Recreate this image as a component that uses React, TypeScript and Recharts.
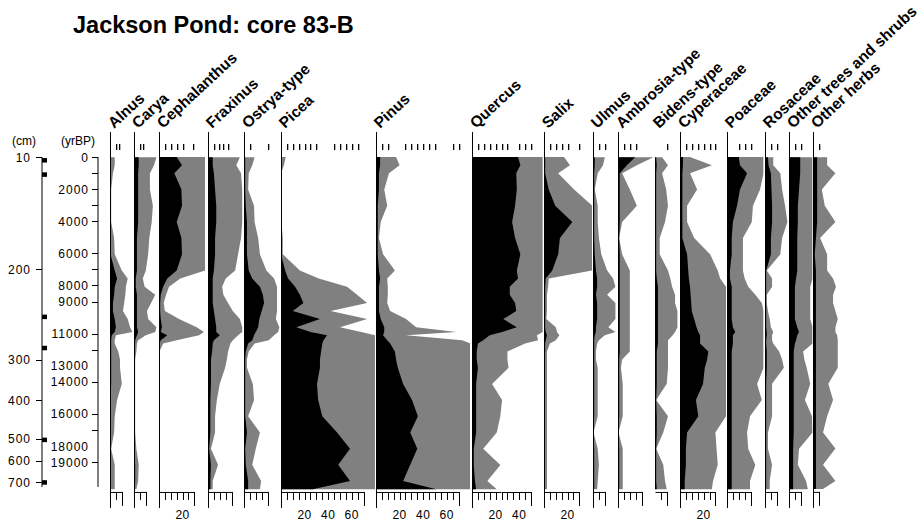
import React from "react";
import { ComposedChart, Area, Line, XAxis, YAxis } from "recharts";

// horizontal scale shared by every taxon column (pixels per percent)
const PX_PER_PCT = 1.18;
// vertical axis in calibrated years BP; the negative part is the header strip above the core top
const AGE_MIN = -1550;
const AGE_MAX = 20550;
const FONT = "'Liberation Sans', Arial, sans-serif";

// sample ages (yr BP)
const ages = [0, 500, 1000, 2000, 3000, 4000, 5000, 6000, 7000, 7500, 8000, 8500, 9000, 9500, 10000, 10500, 10800, 11000, 11300, 11500, 12000, 12500, 13000, 14000, 15000, 16000, 17000, 18000, 19000, 20000, 20500];

// pollen percentages (black) and the x5 exaggeration curves (grey)
const alnusPct = [0.4, 0.4, 0, 0, 0, 0, 0, 0.4, 4, 6, 4, 3.5, 2.5, 2.5, 4, 5, 4, 1.5, 1, 1, 1, 1, 1, 1, 0.4, 0.4, 0.4, 0, 0.4, 0.4, 0.4];
const alnusExag = [4, 4, 2.5, 1, 1, 1, 3.5, 4, 10, 15, 13.5, 13, 12, 11, 15, 17, 19, 5, 4, 4, 7, 8.5, 8.5, 10, 6, 4, 3.5, 1, 4, 4, 4];
const caryaPct = [4, 4, 3.5, 3.5, 3.5, 3.5, 2.5, 2.5, 2.5, 1.5, 1.5, 2.5, 2.5, 2.5, 2.5, 2.5, 3.5, 2.5, 1, 1, 0.4, 0.4, 0.4, 0.4, 0.4, 0.4, 0.4, 0.4, 1, 1, 0.4];
const caryaExag = [19, 17, 13.5, 13.5, 16, 15, 13, 12, 10, 7.5, 9, 18, 14.5, 11, 12, 19, 18, 10, 3.5, 2.5, 2, 1, 1, 1, 1, 1, 1, 2, 4, 3.5, 2];
const cephalanthusPct = [15, 19.5, 13, 19, 19.5, 15, 19, 19.5, 15, 7, 3.5, 1.5, 1, 1, 1.5, 2.5, 1.5, 7, 1.5, 0.4, 0, 0, 0, 0, 0, 0, 0, 0, 0, 0, 0];
const cephalanthusExag = [39, 39, 39, 39, 39, 39, 39, 39, 39, 18, 8.5, 6, 4, 5, 17, 32, 38, 34, 15, 3.5, 0.4, 0.4, 0.4, 0.4, 0.4, 0.4, 0.4, 0.4, 0.4, 0.4, 0.4];
const fraxinusPct = [4, 4, 5, 6, 7, 7, 6, 6, 5, 4, 4, 4, 4, 5, 6, 7, 7, 10, 5, 4, 3.5, 2.5, 2.5, 2.5, 2, 2, 2, 1, 2.5, 2, 2];
const fraxinusExag = [27, 24, 28, 29, 29, 29, 28, 25.5, 23, 15, 12, 13, 17, 21, 27, 29, 29, 25.5, 21, 19, 17, 16, 14.5, 10, 7.5, 6, 6, 2.5, 8.5, 4, 4];
const ostryaPct = [1, 1, 1, 1, 1.5, 2.5, 2.5, 2.5, 4, 7, 13.5, 16, 17, 15, 13, 12, 10, 8.5, 7, 3.5, 1.5, 1, 1, 1, 1, 1, 2.5, 1, 1.5, 3.5, 3.5];
const ostryaExag = [9, 7, 4, 3.5, 8.5, 9, 12, 13.5, 19, 25.5, 28, 28, 28, 28, 27, 30, 29, 25.5, 21, 9, 4, 2.5, 2.5, 7.5, 8.5, 3.5, 13.5, 10, 7, 14.5, 13.5];
const piceaPct = [0, 0, 0, 0, 0, 0, 0, 0, 3.5, 6, 12, 16, 19, 10, 33, 13, 25, 39, 36, 35, 34, 33, 33, 30.5, 31.5, 35, 47.5, 58.5, 48.5, 58.5, 27];
const piceaExag = [4, 2.5, 0, 0, 0, 0.4, 1.5, 1.5, 16, 32, 56, 64.5, 73, 42, 73, 50, 68, 80, 80, 80, 80, 80, 80, 80, 80, 80, 80, 80, 80, 80, 80];
const pinusPct = [3.5, 3.5, 2.5, 2.5, 1.5, 1.5, 1.5, 1.5, 2.5, 3.5, 2.5, 2.5, 2.5, 2.5, 4, 7, 7, 6, 9.5, 12, 16, 17, 18.5, 23, 30.5, 35.5, 29, 35, 29, 23, 51];
const pinusExag = [17, 20, 11, 7, 9.5, 4, 2.5, 6, 16, 9.5, 10, 10, 9.5, 12, 25.5, 34, 68, 25.5, 73, 80, 80, 80, 80, 80, 80, 80, 80, 80, 80, 80, 80];
const quercusPct = [39, 41, 37.5, 38, 36.5, 34, 36.5, 41, 38, 39, 32, 32, 36.5, 37.5, 26.5, 38, 25.5, 15, 9.5, 5, 4, 4, 5, 3.5, 3.5, 3.5, 3.5, 1.5, 1.5, 2.5, 3.5];
const quercusExag = [60, 60, 60, 60, 60, 60, 60, 60, 60, 60, 60, 60, 60, 60, 60, 60, 60, 55, 56, 45, 30, 30, 31, 17, 25.5, 24, 21, 9.5, 24, 13, 21];
const salixPct = [1, 1, 1, 4, 9.5, 24, 13.5, 12, 7, 1.5, 1, 1, 1, 1, 1, 1, 1.5, 2.5, 1.5, 1, 1, 0.4, 0.4, 0.4, 0.4, 0.4, 0.4, 0.4, 0.4, 0.4, 0.4];
const salixExag = [17, 22, 12, 25.5, 41, 41, 41, 41, 41, 4, 3.5, 2.5, 2.5, 2.5, 2, 10, 11, 13, 10, 5, 2.5, 2.5, 2.5, 2.5, 2.5, 2.5, 2.5, 2.5, 2.5, 2.5, 2.5];
const ulmusPct = [1.5, 1.5, 1, 1, 1, 1, 1, 1.5, 2.5, 3.5, 3.5, 2.5, 3.5, 3.5, 3.5, 2.5, 2.5, 1.5, 1, 1, 1, 1, 1, 1, 1, 1, 0, 1, 1, 1, 1];
const ulmusExag = [10, 8.5, 4, 1.5, 4, 4, 5, 7, 12, 17, 19, 12, 19, 19, 19, 13, 19, 10, 5, 3.5, 2.5, 2.5, 4, 4, 4, 4, 0.4, 4, 5, 4, 3.5];
const ambrosiaPct = [14.5, 7.5, 1.5, 1.5, 1.5, 1.5, 1, 1.5, 1.5, 1.5, 1.5, 1.5, 1.5, 1.5, 1.5, 1.5, 1.5, 1.5, 1.5, 1.5, 1.5, 1, 1, 1, 1, 1, 0, 1, 1, 1, 1];
const ambrosiaExag = [30, 16, 3.5, 10, 16, 3.5, 1, 3.5, 10, 10, 10, 10, 10, 10, 10, 10, 10, 10, 10, 10, 10, 3.5, 2.5, 4, 4, 4, 0.4, 4, 4, 4, 4];
const bidensPct = [1, 1.5, 1, 1, 1, 1, 1, 1, 1, 1.5, 2.5, 2.5, 2.5, 2.5, 2.5, 2.5, 2.5, 2.5, 2.5, 2.5, 1.5, 1.5, 1.5, 1.5, 1, 1.5, 1.5, 1, 1, 1, 1.5];
const bidensExag = [6, 11, 6, 9.5, 11, 8.5, 4, 4, 11, 13, 14.5, 17, 17, 19, 19, 19, 17, 15, 11, 11, 11, 11, 11, 10, 1, 11, 7, 1, 7, 8.5, 10];
const cyperaceaePct = [2.5, 2.5, 2, 2, 2, 2, 2, 6, 7, 7.5, 8.5, 9, 9.5, 10, 12, 14, 15.5, 17, 17, 17, 24, 23, 21, 19.5, 13.5, 15.5, 6, 5, 5, 4, 4];
const cyperaceaeExag = [8.5, 27, 8.5, 14.5, 6, 6, 12, 25.5, 32, 34, 39, 39, 39, 39, 39, 39, 39, 39, 39, 39, 39, 39, 39, 39, 39, 39, 30, 31, 32, 28, 27];
const poaceaePct = [10, 11, 17, 11, 8.5, 5, 4, 4, 2.5, 2.5, 4, 4, 4, 4, 4, 5, 7, 5, 5, 5, 4, 4, 4, 4, 4, 4, 4, 4, 4, 4, 4];
const poaceaeExag = [31, 31, 31, 28, 22, 21, 13.5, 13.5, 13.5, 15, 18, 24, 29.5, 31, 31, 31, 31, 31, 31, 31, 31, 31, 31, 25.5, 29.5, 19.5, 17, 18, 24, 19.5, 19.5];
const rosaceaePct = [2.5, 3, 5, 5.5, 6, 6, 5, 5, 1, 1, 1, 1, 1, 1, 1, 1, 1.5, 1.5, 1, 1, 1.5, 1.5, 1.5, 1, 1, 1, 1, 1, 1, 1, 1];
const rosaceaeExag = [7, 7, 13, 14.5, 17, 19, 14.5, 13, 1.5, 6, 6, 1.5, 1.5, 2.5, 4, 5, 7, 6, 6, 7, 12, 14.5, 16, 6, 6, 6, 2.5, 2.5, 6, 4, 4];
const otherTreesPct = [9.5, 9.5, 9.5, 8.5, 7.5, 7.5, 7, 7, 7, 6, 5, 5, 5, 5, 5, 7, 8.5, 7, 6, 5, 4, 4, 4, 4, 4, 4, 4, 3.5, 3.5, 3.5, 3.5];
const otherTreesExag = [20, 20, 20, 20, 20, 20, 20, 20, 20, 20, 18, 18, 18, 18, 18, 20, 20, 20, 20, 20, 12, 13, 15, 18, 13.5, 19.5, 20, 8.5, 7.5, 14.5, 16];
const otherHerbsPct = [3.5, 3.5, 3.5, 3.5, 3.5, 3.5, 2.5, 1.5, 2.5, 2.5, 2.5, 2.5, 2.5, 2.5, 2.5, 2.5, 2.5, 2.5, 2.5, 2.5, 2.5, 2.5, 2.5, 2.5, 2.5, 2.5, 2.5, 2.5, 2.5, 2.5, 2.5];
const otherHerbsExag = [12, 12, 19, 7.5, 10, 19, 6, 12, 12, 17, 19.5, 17, 17, 19, 21, 19, 19, 20.5, 21, 21, 21, 21, 21, 13, 17, 12, 8.5, 19, 8.5, 19, 8.5];

const taxa = ["Alnus", "Carya", "Cephalanthus", "Fraxinus", "Ostrya-type", "Picea", "Pinus", "Quercus", "Salix", "Ulmus", "Ambrosia-type", "Bidens-type", "Cyperaceae", "Poaceae", "Rosaceae", "Other trees and shrubs", "Other herbs"];
const pctSeries = [alnusPct, caryaPct, cephalanthusPct, fraxinusPct, ostryaPct, piceaPct, pinusPct, quercusPct, salixPct, ulmusPct, ambrosiaPct, bidensPct, cyperaceaePct, poaceaePct, rosaceaePct, otherTreesPct, otherHerbsPct];
const exagSeries = [alnusExag, caryaExag, cephalanthusExag, fraxinusExag, ostryaExag, piceaExag, pinusExag, quercusExag, salixExag, ulmusExag, ambrosiaExag, bidensExag, cyperaceaeExag, poaceaeExag, rosaceaeExag, otherTreesExag, otherHerbsExag];

// column layout
const columnLeft = [110, 134, 159, 208, 244, 281, 376, 472, 544, 593, 618, 655, 680, 727, 765, 789, 813];
const columnMax = [20, 20, 41, 30, 30.5, 80, 80, 60, 41, 20, 30.5, 20, 39, 31, 20, 20, 23];
const rulerMax = [10, 10, 30, 20, 20, 70, 70, 50, 30, 10, 20, 10, 30, 20, 10, 10, 5];
const rulerLabels = [[], [], [20], [], [], [20, 40, 60], [20, 40, 60], [20, 40], [20], [], [], [], [20], [], [], [], []];
const topTicks = [
  [5, 8], [5, 8], [5, 10, 15, 20, 29], [5, 9, 13, 17], [5, 20],
  [5, 10, 15, 20, 25, 30, 45, 50, 55, 60, 65], [5, 10, 25, 30, 35, 40, 45, 50, 65, 70],
  [5, 10, 15, 20, 25, 30, 40, 45, 50], [5, 10, 15, 20, 30], [5, 10], [5, 10, 15], [10],
  [5, 10, 15, 20, 25, 30], [10, 15, 20], [5, 10], [5, 10], [5],
];

// left-hand axes: age scale, depth scale and dated levels
const ageTicks = [0, 1000, 2000, 3000, 4000, 6000, 7000, 8000, 9000, 11000, 12000, 13000, 14000, 16000, 17000, 18000, 19000];
const ageTickMarks = [0, 1000, 2000, 3000, 4000, 6000, 7000, 8000, 9000, 11000, 12000, 14000, 16000, 17000, 19000];
const ageLabels = [0, 2000, 4000, 6000, 8000, 9000, 11000, 13000, 14000, 16000, 18000, 19000];
const depthAges = [0, 6980, 12640, 15150, 17550, 18910, 20250];
const depthLabels = ["10", "200", "300", "400", "500", "600", "700"];
const datedAges = [190, 1080, 9940, 11880, 17600, 20250];

function TaxonColumn({ index }: { index: number }) {
  const max = columnMax[index];
  const width = max * PX_PER_PCT;
  const rows = ages.map((age, k) => ({ age, pct: pctSeries[index][k], exag: exagSeries[index][k] }));
  const ruler: number[] = [];
  for (let v = 0; v <= rulerMax[index]; v += 5) ruler.push(v);
  const hasBaseline = taxa[index] !== "Bidens-type";
  const labels: number[] = rulerLabels[index];
  const step = 5 * PX_PER_PCT;

  const renderRuler = (props: any) => {
    const { x, payload } = props;
    const v = payload.value;
    const xx = Math.round(x) + 0.5;
    const last = v === rulerMax[index];
    return (
      <g>
        {v === 0 && hasBaseline && <line x1={xx} x2={xx} y1={132} y2={508} stroke="#000" />}
        {v !== 0 && <line x1={xx} x2={xx} y1={492} y2={last ? 506 : 500} stroke="#000" />}
        {!last && <line x1={xx} x2={Math.round(x + step) + 0.5} y1={492.5} y2={492.5} stroke="#000" />}
        {labels.includes(v) && (
          <text x={x} y={519} textAnchor="middle" fontSize={12} letterSpacing={0.5} fontFamily={FONT} fill="#000">
            {v}
          </text>
        )}
      </g>
    );
  };

  const renderTopTick = (props: any) => <rect x={Math.round(props.x)} y={144} width={1.3} height={6} fill="#000" />;

  return (
    <div style={{ position: "absolute", left: columnLeft[index], top: 0 }}>
      <ComposedChart width={width} height={523} data={rows} layout="vertical" margin={{ top: 122, right: 0, bottom: 3, left: 0 }}>
        <YAxis type="number" dataKey="age" domain={[AGE_MIN, AGE_MAX]} hide allowDataOverflow />
        <Area dataKey="exag" type="linear" fill="#808080" fillOpacity={1} stroke="none" isAnimationActive={false} />
        <Area dataKey="pct" type="linear" fill="#000" fillOpacity={1} stroke="none" isAnimationActive={false} />
        <XAxis type="number" domain={[0, max]} allowDataOverflow ticks={ruler} interval={0} tick={renderRuler} tickLine={false} axisLine={false} height={30} />
        <XAxis xAxisId="top" orientation="top" type="number" domain={[0, max]} allowDataOverflow ticks={topTicks[index]} interval={0} tick={renderTopTick} tickLine={false} axisLine={false} height={10} />
      </ComposedChart>
    </div>
  );
}

function AgeAxis() {
  const rows = ageTicks.map((age) => ({ age, mark: 0 }));
  const renderTick = (props: any) => {
    const { y, payload } = props;
    const v = payload.value;
    return (
      <g>
        {ageTickMarks.includes(v) && <line x1={92} x2={98} y1={Math.round(y) + 0.5} y2={Math.round(y) + 0.5} stroke="#000" />}
        {ageLabels.includes(v) && (
          <text x={89} y={y + 4.5} textAnchor="end" fontSize={12} letterSpacing={1} fontFamily={FONT} fill="#000">
            {v}
          </text>
        )}
      </g>
    );
  };
  return (
    <div style={{ position: "absolute", left: 0, top: 0 }}>
      <ComposedChart width={100} height={523} data={rows} layout="vertical" margin={{ top: 157, right: 0, bottom: 36, left: 0 }}>
        <XAxis type="number" domain={[0, 1]} hide allowDataOverflow />
        <YAxis type="number" dataKey="age" domain={[0, AGE_MAX]} allowDataOverflow width={98} ticks={ageTicks} interval={0} tick={renderTick} tickLine={false} axisLine={{ stroke: "#000" }} />
        <Line dataKey="mark" stroke="none" dot={false} activeDot={false} isAnimationActive={false} />
      </ComposedChart>
    </div>
  );
}

function DepthAxis() {
  const rows = datedAges.map((age) => ({ age, mark: 0 }));
  const renderTick = (props: any) => {
    const { y, payload } = props;
    const k = depthAges.indexOf(payload.value);
    return (
      <g>
        <line x1={36} x2={42} y1={Math.round(y) + 0.5} y2={Math.round(y) + 0.5} stroke="#000" />
        <text x={31} y={y + 4.5} textAnchor="end" fontSize={12} letterSpacing={1} fontFamily={FONT} fill="#000">
          {depthLabels[k]}
        </text>
      </g>
    );
  };
  const renderMark = (props: any) => {
    const { cx, cy } = props;
    return <rect key={`m${cy}`} x={cx - 5} y={cy - 2} width={10} height={4.5} fill="#000" />;
  };
  return (
    <div style={{ position: "absolute", left: 0, top: 0 }}>
      <ComposedChart width={50} height={523} data={rows} layout="vertical" margin={{ top: 157, right: 0, bottom: 36, left: 0 }}>
        <XAxis type="number" domain={[0, 1]} hide allowDataOverflow />
        <YAxis type="number" dataKey="age" domain={[0, AGE_MAX]} allowDataOverflow width={42} ticks={depthAges} interval={0} tick={renderTick} tickLine={false} axisLine={{ stroke: "#000" }} />
        <Line dataKey="mark" stroke="none" dot={renderMark} activeDot={false} isAnimationActive={false} />
      </ComposedChart>
    </div>
  );
}

export default function App() {
  return (
    <div style={{ position: "absolute", left: 0, top: 0, width: 924, height: 523, background: "#fff", overflow: "hidden" }}>
      <DepthAxis />
      <AgeAxis />
      {taxa.map((t, i) => (
        <TaxonColumn key={t} index={i} />
      ))}
      <svg width={924} height={523} style={{ position: "absolute", left: 0, top: 0, pointerEvents: "none" }}>
        <text x={73} y={33} fontSize={23.5} fontWeight="bold" fontFamily={FONT} fill="#000">
          Jackson Pond: core 83-B
        </text>
        <text x={12} y={145} fontSize={12} fontFamily={FONT} fill="#000">(cm)</text>
        <text x={61} y={145} fontSize={12} fontFamily={FONT} fill="#000">(yrBP)</text>
        {taxa.map((t, i) => (
          <text key={t} transform={`translate(${columnLeft[i] + 4},129) rotate(-43)`} fontSize={15.5} fontWeight="bold" fontFamily={FONT} fill="#000">
            {t}
          </text>
        ))}
      </svg>
    </div>
  );
}
